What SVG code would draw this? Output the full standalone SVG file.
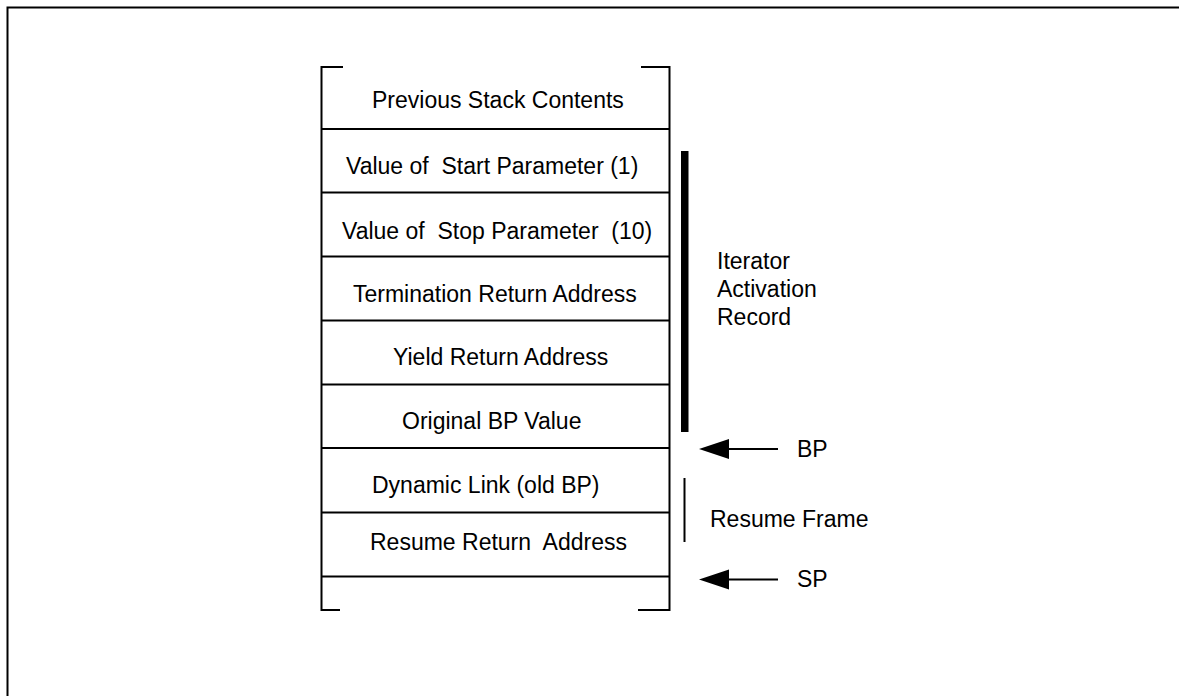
<svg xmlns="http://www.w3.org/2000/svg" width="1179" height="696" viewBox="0 0 1179 696">
<defs>
<style>
.t{font-family:"Liberation Sans",Arial,sans-serif;font-size:23px;fill:#000;white-space:pre}
.ln{stroke:#000;stroke-width:2;fill:none}
</style>
</defs>
<rect width="1179" height="696" fill="#fff"/>
<path d="M7.5,696 V7.5 H1179" stroke="#000" stroke-width="2" fill="none"/>
<g id="stack">
<path class="ln" d="M343,67 H321.5 V610 H340"/>
<path class="ln" d="M641,67 H669.5 V610 H638"/>
<g class="ln">
<line x1="321" y1="129" x2="670" y2="129"/>
<line x1="321" y1="192.5" x2="670" y2="192.5"/>
<line x1="321" y1="256.5" x2="670" y2="256.5"/>
<line x1="321" y1="320.5" x2="670" y2="320.5"/>
<line x1="321" y1="384.5" x2="670" y2="384.5"/>
<line x1="321" y1="448" x2="670" y2="448"/>
<line x1="321" y1="512.5" x2="670" y2="512.5"/>
<line x1="321" y1="576.5" x2="670" y2="576.5"/>
</g>
</g>
<g id="row-prev"><text class="t" x="372" y="108">Previous Stack Contents</text></g>
<g id="row-start"><text class="t" x="346" y="174" xml:space="preserve">Value of  Start Parameter (1)</text></g>
<g id="row-stop"><text class="t" x="342" y="239" xml:space="preserve">Value of  Stop Parameter  (10)</text></g>
<g id="row-term"><text class="t" x="353" y="302">Termination Return Address</text></g>
<g id="row-yield"><text class="t" x="393" y="365">Yield Return Address</text></g>
<g id="row-bp"><text class="t" x="402" y="429">Original BP Value</text></g>
<g id="row-dyn"><text class="t" x="372" y="493">Dynamic Link (old BP)</text></g>
<g id="row-resume"><text class="t" x="370" y="550" xml:space="preserve">Resume Return  Address</text></g>
<g id="iar">
<rect x="681" y="151" width="7.5" height="281" fill="#000"/>
<text class="t" x="717" y="269">Iterator</text>
<text class="t" x="717" y="297">Activation</text>
<text class="t" x="717" y="325">Record</text>
</g>
<g id="rf">
<line x1="684.5" y1="478" x2="684.5" y2="542" stroke="#000" stroke-width="2"/>
<text class="t" x="710" y="527">Resume Frame</text>
</g>
<g id="connectors">
<line x1="778" y1="449" x2="728" y2="449" stroke="#000" stroke-width="2"/>
<path d="M699,449 L729,439 L729,459 Z" fill="#000"/>
<line x1="778" y1="579.5" x2="728" y2="579.5" stroke="#000" stroke-width="2"/>
<path d="M699,579.5 L729,569.5 L729,589.5 Z" fill="#000"/>
</g>
<g id="bp-label"><text class="t" x="797" y="457">BP</text></g>
<g id="sp-label"><text class="t" x="797" y="587">SP</text></g>
</svg>
